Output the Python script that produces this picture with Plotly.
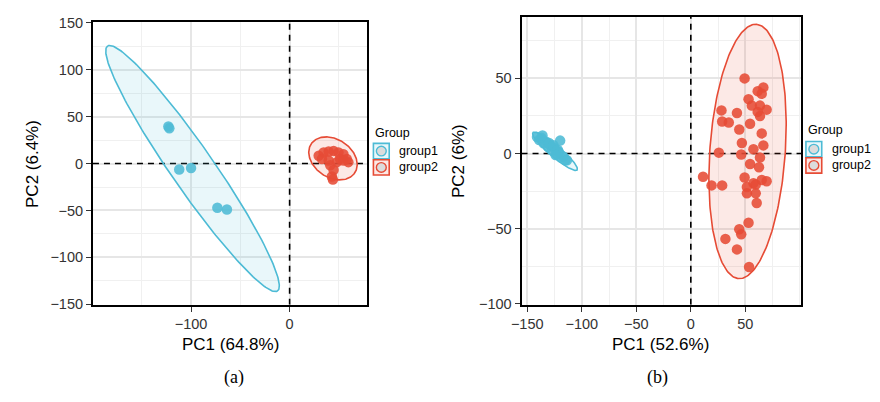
import numpy as np
import plotly.graph_objects as go

# ---------------- data ----------------
groups = ["group1", "group2"]
colors = {"group1": "#4DBBD5", "group2": "#E64B35"}

# panel (a)
a_g1_x = [-123.0, -122.0, -112.0, -100.0, -73.3, -63.6]
a_g1_y = [39.5, 37.5, -6.4, -4.8, -47.0, -49.0]
a_g2_x = [29.5, 34.5, 39.6, 44.6, 49.6, 54.6, 58.0, 59.6, 47.9, 41.2, 44.6, 42.9, 43.9, 39.6, 32.8, 51.2, 54.6]
a_g2_y = [8.4, 11.7, 12.8, 13.5, 11.7, 10.0, 4.9, 1.5, 1.5, -1.8, -6.9, -13.8, -17.1, 3.3, 4.9, 4.9, 3.3]

# panel (b)
b_g1_x = [-141, -139, -137, -135, -133, -131, -129, -127, -125, -123, -121, -119, -117, -115, -113.5,
          -119.8, -136, -130, -126, -122, -124]
b_g1_y = [11, 9, 10.5, 6.8, 8, 4.5, 5.5, 2, 3.5, -0.5, 1, -2.5, -2, -4.5, -4.5,
          8.6, 12, 7, 5.5, 2.5, -1]
b_g2_x = [49.3, 66.5, 61.3, 65.0, 52.9, 55.9, 63.4, 69.5, 61.3, 28.1, 42.3, 63.4, 28.7, 34.8, 54.3,
          44.4, 65.0, 46.8, 66.5, 57.4, 25.7, 46.2, 63.4, 54.3, 62.5, 11.2, 49.3, 65.0, 69.5, 57.4,
          19.0, 28.7, 51.4, 59.5, 51.4, 59.5, 60.4, 52.9, 44.4, 46.2, 31.7, 42.3, 53.4]
b_g2_y = [50.0, 44.0, 41.5, 39.8, 36.2, 31.9, 31.9, 29.2, 27.7, 28.7, 27.0, 24.9, 21.3, 20.7, 19.8,
          16.0, 13.4, 7.0, 5.4, 2.8, 0.6, -0.6, -2.7, -7.0, -9.1, -15.5, -16.0, -17.6, -18.5, -19.8,
          -21.2, -21.2, -22.3, -20.6, -26.5, -26.5, -32.9, -46.1, -50.4, -53.8, -56.8, -63.8, -75.5]

# 95% confidence ellipses: centre x, centre y, semi-major, semi-minor, angle (deg)
ell_a_g1 = [-98.5, -5.3, 156.4, 22.0, 123.4]
ell_a_g2 = [44.0, 5.5, 27.0, 20.0, -38.0]
ell_b_g1 = [-124.5, 1.5, 23.8, 4.2, -31.0]
ell_b_g2 = [52.0, 1.4, 85.0, 34.5, 84.0]

# axis ranges
a_xrange = [-199.5, 79]
a_yrange = [-150.4, 150.4]
b_xrange = [-155.2, 101]
b_yrange = [-100.6, 90.9]

x_titles = ["PC1 (64.8%)", "PC1 (52.6%)"]
y_titles = ["PC2 (6.4%)", "PC2 (6%)"]
panel_labels = ["(a)", "(b)"]

# ---------------- helpers ----------------
W, H = 880, 402
FONT = "Liberation Sans, Arial, sans-serif"


def px2x(p):
    return p / W


def px2y(p):
    return 1 - p / H


def ellipse(params, n=240):
    cx, cy, a, b, ang = params
    t = np.linspace(0, 2 * np.pi, n)
    th = np.deg2rad(ang)
    x = cx + a * np.cos(t) * np.cos(th) - b * np.sin(t) * np.sin(th)
    y = cy + a * np.cos(t) * np.sin(th) + b * np.sin(t) * np.cos(th)
    return x, y


def rgba(hexc, a):
    h = hexc.lstrip("#")
    r, g, b = int(h[0:2], 16), int(h[2:4], 16), int(h[4:6], 16)
    return f"rgba({r},{g},{b},{a})"


fig = go.Figure()

panels = [
    ("x", "y", a_xrange, a_yrange, [(a_g1_x, a_g1_y, ell_a_g1), (a_g2_x, a_g2_y, ell_a_g2)]),
    ("x2", "y2", b_xrange, b_yrange, [(b_g1_x, b_g1_y, ell_b_g1), (b_g2_x, b_g2_y, ell_b_g2)]),
]

dash = dict(color="black", width=1.6, dash="6px,5px")
for xa, ya, xr, yr, data in panels:
    # dashed reference lines through the origin
    fig.add_trace(go.Scatter(x=[0, 0], y=yr, xaxis=xa, yaxis=ya, mode="lines", line=dash,
                             showlegend=False, hoverinfo="skip"))
    fig.add_trace(go.Scatter(x=xr, y=[0, 0], xaxis=xa, yaxis=ya, mode="lines", line=dash,
                             showlegend=False, hoverinfo="skip"))
    for g, (xs, ys, ep) in zip(groups, data):
        ex, ey = ellipse(ep)
        fig.add_trace(go.Scatter(
            x=ex, y=ey, xaxis=xa, yaxis=ya, mode="lines", fill="toself",
            fillcolor=rgba(colors[g], 0.12), line=dict(color=colors[g], width=1.6),
            showlegend=False, hoverinfo="skip"))
    for g, (xs, ys, ep) in zip(groups, data):
        fig.add_trace(go.Scatter(
            x=xs, y=ys, xaxis=xa, yaxis=ya, mode="markers",
            marker=dict(color=colors[g], size=10.5, opacity=0.88, line=dict(width=0)),
            showlegend=False, name=g))

axis_common = dict(
    showline=True, mirror=True, linecolor="black", linewidth=2,
    ticks="outside", ticklen=5, tickwidth=1.3, tickcolor="#333333",
    tickfont=dict(family=FONT, size=14.5, color="#333333"),
    showgrid=True, gridcolor="#e6e6e6", gridwidth=1.5,
    zeroline=False,
)
minor_common = dict(showgrid=True, gridcolor="#f0f0f0", gridwidth=1, ticks="")

fig.update_layout(
    width=W, height=H, margin=dict(l=0, r=0, t=0, b=0),
    paper_bgcolor="white", plot_bgcolor="white", showlegend=False,
    font=dict(family=FONT),
    xaxis=dict(domain=[px2x(83), px2x(361)], range=a_xrange, anchor="y",
               tickmode="array", tickvals=[-200, -100, 0],
               minor=dict(tickvals=[-150, -50, 50], **minor_common), **axis_common),
    yaxis=dict(domain=[px2y(309), px2y(15)], range=a_yrange, anchor="x",
               tickmode="array", tickvals=[-150, -100, -50, 0, 50, 100, 150],
               minor=dict(tickvals=[-125, -75, -25, 25, 75, 125], **minor_common), **axis_common),
    xaxis2=dict(domain=[px2x(517), px2x(800)], range=b_xrange, anchor="y2",
                tickmode="array", tickvals=[-150, -100, -50, 0, 50],
                minor=dict(tickvals=[-125, -75, -25, 25, 75, 100], **minor_common), **axis_common),
    yaxis2=dict(domain=[px2y(309), px2y(9.3)], range=b_yrange, anchor="x2",
                tickmode="array", tickvals=[-100, -50, 0, 50],
                minor=dict(tickvals=[-75, -25, 25, 75], **minor_common), **axis_common),
)

shapes = []
annotations = []

# axis titles and panel labels
title_font = dict(family=FONT, size=17, color="black")
for xt, cx in zip(x_titles, [222, 658]):
    annotations.append(dict(text=xt, x=px2x(cx), y=px2y(350), xref="paper", yref="paper",
                            showarrow=False, font=title_font, xanchor="center", yanchor="middle"))
for yt, cx, cy in zip(y_titles, [21.7, 453], [162, 159]):
    annotations.append(dict(text=yt, x=px2x(cx), y=px2y(cy), xref="paper", yref="paper",
                            showarrow=False, font=title_font, textangle=-90,
                            xanchor="center", yanchor="middle"))
for lab, cx in zip(panel_labels, [226, 655]):
    annotations.append(dict(text=lab, x=px2x(cx), y=px2y(385), xref="paper", yref="paper",
                            showarrow=False, font=dict(family="Liberation Serif, Times New Roman, serif",
                                                       size=18, color="black"),
                            xanchor="center", yanchor="middle"))

# custom legends (ggplot style keys)
leg_font = dict(family=FONT, size=12.5, color="black")
for lx, ty, y1, y2 in [(367, 130.7, 149, 166), (805, 126.7, 147, 164)]:
    annotations.append(dict(text="Group", x=px2x(lx), y=px2y(ty), xref="paper", yref="paper",
                            showarrow=False, font=leg_font, xanchor="left", yanchor="middle"))
    for g, cy in zip(groups, [y1, y2]):
        shapes.append(dict(type="rect", xref="paper", yref="paper",
                           x0=px2x(lx), x1=px2x(lx + 16), y0=px2y(cy - 8), y1=px2y(cy + 8),
                           line=dict(color=colors[g], width=1.6), fillcolor=rgba(colors[g], 0.12)))
        shapes.append(dict(type="circle", xref="paper", yref="paper",
                           x0=px2x(lx + 3), x1=px2x(lx + 13), y0=px2y(cy - 5), y1=px2y(cy + 5),
                           line=dict(color=colors[g], width=1.4), fillcolor="#dcdcdc"))
        annotations.append(dict(text=g, x=px2x(lx + 24), y=px2y(cy), xref="paper", yref="paper",
                                showarrow=False, font=leg_font, xanchor="left", yanchor="middle"))

fig.update_layout(shapes=shapes, annotations=annotations)

fig.write_html("out.html", config={"displayModeBar": False},
               post_script="document.body.style.margin='0px';document.body.style.padding='0px';")
